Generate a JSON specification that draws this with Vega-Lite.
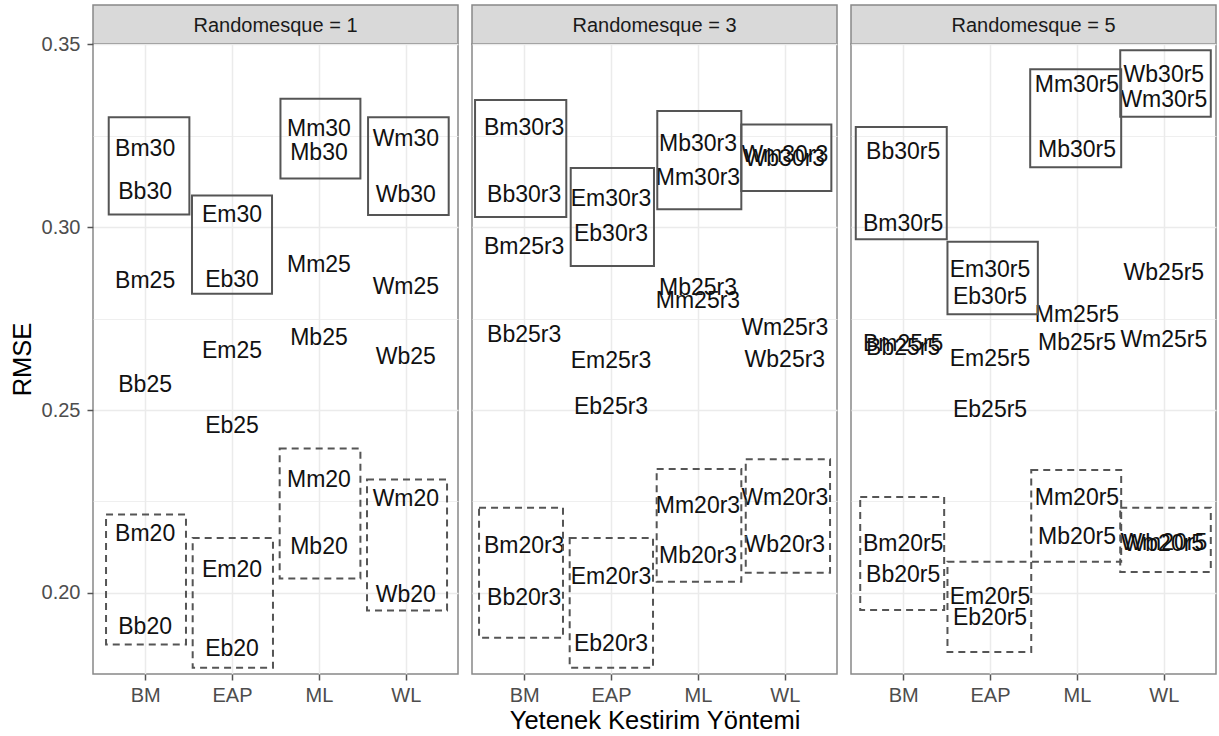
{
  "$schema": "https://vega.github.io/schema/vega-lite/v6.json",
  "autosize": {"type": "pad"},
  "padding": {"left": 9, "top": 4, "right": 1, "bottom": 0},
  "background": "white",
  "config": {
    "font": "Liberation Sans",
    "view": {"stroke": "#888888", "strokeWidth": 1.5},
    "axis": {
      "domain": false,
      "gridColor": "#EBEBEB",
      "tickColor": "#555555",
      "tickSize": 6,
      "tickWidth": 1.5,
      "labelColor": "#4D4D4D",
      "labelFont": "Liberation Sans",
      "labelFontSize": 20,
      "labelPadding": 5,
      "titleFont": "Liberation Sans",
      "titleFontSize": 25.5,
      "titleFontWeight": "normal",
      "titleColor": "#000000"
    }
  },
  "datasets": {
    "labels": [
      {"panel": "Randomesque = 1", "method": "BM", "rmse": 0.3217, "label": "Bm30"},
      {"panel": "Randomesque = 1", "method": "BM", "rmse": 0.3098, "label": "Bb30"},
      {"panel": "Randomesque = 1", "method": "BM", "rmse": 0.2855, "label": "Bm25"},
      {"panel": "Randomesque = 1", "method": "BM", "rmse": 0.2570, "label": "Bb25"},
      {"panel": "Randomesque = 1", "method": "BM", "rmse": 0.2164, "label": "Bm20"},
      {"panel": "Randomesque = 1", "method": "BM", "rmse": 0.1908, "label": "Bb20"},
      {"panel": "Randomesque = 1", "method": "EAP", "rmse": 0.3035, "label": "Em30"},
      {"panel": "Randomesque = 1", "method": "EAP", "rmse": 0.2858, "label": "Eb30"},
      {"panel": "Randomesque = 1", "method": "EAP", "rmse": 0.2665, "label": "Em25"},
      {"panel": "Randomesque = 1", "method": "EAP", "rmse": 0.2458, "label": "Eb25"},
      {"panel": "Randomesque = 1", "method": "EAP", "rmse": 0.2066, "label": "Em20"},
      {"panel": "Randomesque = 1", "method": "EAP", "rmse": 0.1849, "label": "Eb20"},
      {"panel": "Randomesque = 1", "method": "ML", "rmse": 0.3272, "label": "Mm30"},
      {"panel": "Randomesque = 1", "method": "ML", "rmse": 0.3205, "label": "Mb30"},
      {"panel": "Randomesque = 1", "method": "ML", "rmse": 0.2898, "label": "Mm25"},
      {"panel": "Randomesque = 1", "method": "ML", "rmse": 0.2699, "label": "Mb25"},
      {"panel": "Randomesque = 1", "method": "ML", "rmse": 0.2312, "label": "Mm20"},
      {"panel": "Randomesque = 1", "method": "ML", "rmse": 0.2128, "label": "Mb20"},
      {"panel": "Randomesque = 1", "method": "WL", "rmse": 0.3243, "label": "Wm30"},
      {"panel": "Randomesque = 1", "method": "WL", "rmse": 0.3090, "label": "Wb30"},
      {"panel": "Randomesque = 1", "method": "WL", "rmse": 0.2839, "label": "Wm25"},
      {"panel": "Randomesque = 1", "method": "WL", "rmse": 0.2647, "label": "Wb25"},
      {"panel": "Randomesque = 1", "method": "WL", "rmse": 0.2260, "label": "Wm20"},
      {"panel": "Randomesque = 1", "method": "WL", "rmse": 0.1998, "label": "Wb20"},
      {"panel": "Randomesque = 3", "method": "BM", "rmse": 0.3275, "label": "Bm30r3"},
      {"panel": "Randomesque = 3", "method": "BM", "rmse": 0.3092, "label": "Bb30r3"},
      {"panel": "Randomesque = 3", "method": "BM", "rmse": 0.2948, "label": "Bm25r3"},
      {"panel": "Randomesque = 3", "method": "BM", "rmse": 0.2708, "label": "Bb25r3"},
      {"panel": "Randomesque = 3", "method": "BM", "rmse": 0.2131, "label": "Bm20r3"},
      {"panel": "Randomesque = 3", "method": "BM", "rmse": 0.1989, "label": "Bb20r3"},
      {"panel": "Randomesque = 3", "method": "EAP", "rmse": 0.3080, "label": "Em30r3"},
      {"panel": "Randomesque = 3", "method": "EAP", "rmse": 0.2983, "label": "Eb30r3"},
      {"panel": "Randomesque = 3", "method": "EAP", "rmse": 0.2638, "label": "Em25r3"},
      {"panel": "Randomesque = 3", "method": "EAP", "rmse": 0.2510, "label": "Eb25r3"},
      {"panel": "Randomesque = 3", "method": "EAP", "rmse": 0.2046, "label": "Em20r3"},
      {"panel": "Randomesque = 3", "method": "EAP", "rmse": 0.1863, "label": "Eb20r3"},
      {"panel": "Randomesque = 3", "method": "ML", "rmse": 0.3229, "label": "Mb30r3"},
      {"panel": "Randomesque = 3", "method": "ML", "rmse": 0.3138, "label": "Mm30r3"},
      {"panel": "Randomesque = 3", "method": "ML", "rmse": 0.2837, "label": "Mb25r3"},
      {"panel": "Randomesque = 3", "method": "ML", "rmse": 0.2802, "label": "Mm25r3"},
      {"panel": "Randomesque = 3", "method": "ML", "rmse": 0.2241, "label": "Mm20r3"},
      {"panel": "Randomesque = 3", "method": "ML", "rmse": 0.2104, "label": "Mb20r3"},
      {"panel": "Randomesque = 3", "method": "WL", "rmse": 0.3200, "label": "Wm30r3"},
      {"panel": "Randomesque = 3", "method": "WL", "rmse": 0.3189, "label": "Wb30r3"},
      {"panel": "Randomesque = 3", "method": "WL", "rmse": 0.2727, "label": "Wm25r3"},
      {"panel": "Randomesque = 3", "method": "WL", "rmse": 0.2639, "label": "Wb25r3"},
      {"panel": "Randomesque = 3", "method": "WL", "rmse": 0.2263, "label": "Wm20r3"},
      {"panel": "Randomesque = 3", "method": "WL", "rmse": 0.2134, "label": "Wb20r3"},
      {"panel": "Randomesque = 5", "method": "BM", "rmse": 0.3208, "label": "Bb30r5"},
      {"panel": "Randomesque = 5", "method": "BM", "rmse": 0.3012, "label": "Bm30r5"},
      {"panel": "Randomesque = 5", "method": "BM", "rmse": 0.2684, "label": "Bm25r5"},
      {"panel": "Randomesque = 5", "method": "BM", "rmse": 0.2673, "label": "Bb25r5"},
      {"panel": "Randomesque = 5", "method": "BM", "rmse": 0.2137, "label": "Bm20r5"},
      {"panel": "Randomesque = 5", "method": "BM", "rmse": 0.2051, "label": "Bb20r5"},
      {"panel": "Randomesque = 5", "method": "EAP", "rmse": 0.2885, "label": "Em30r5"},
      {"panel": "Randomesque = 5", "method": "EAP", "rmse": 0.2811, "label": "Eb30r5"},
      {"panel": "Randomesque = 5", "method": "EAP", "rmse": 0.2643, "label": "Em25r5"},
      {"panel": "Randomesque = 5", "method": "EAP", "rmse": 0.2502, "label": "Eb25r5"},
      {"panel": "Randomesque = 5", "method": "EAP", "rmse": 0.1992, "label": "Em20r5"},
      {"panel": "Randomesque = 5", "method": "EAP", "rmse": 0.1935, "label": "Eb20r5"},
      {"panel": "Randomesque = 5", "method": "ML", "rmse": 0.3391, "label": "Mm30r5"},
      {"panel": "Randomesque = 5", "method": "ML", "rmse": 0.3213, "label": "Mb30r5"},
      {"panel": "Randomesque = 5", "method": "ML", "rmse": 0.2762, "label": "Mm25r5"},
      {"panel": "Randomesque = 5", "method": "ML", "rmse": 0.2685, "label": "Mb25r5"},
      {"panel": "Randomesque = 5", "method": "ML", "rmse": 0.2261, "label": "Mm20r5"},
      {"panel": "Randomesque = 5", "method": "ML", "rmse": 0.2156, "label": "Mb20r5"},
      {"panel": "Randomesque = 5", "method": "WL", "rmse": 0.3419, "label": "Wb30r5"},
      {"panel": "Randomesque = 5", "method": "WL", "rmse": 0.3350, "label": "Wm30r5"},
      {"panel": "Randomesque = 5", "method": "WL", "rmse": 0.2878, "label": "Wb25r5"},
      {"panel": "Randomesque = 5", "method": "WL", "rmse": 0.2693, "label": "Wm25r5"},
      {"panel": "Randomesque = 5", "method": "WL", "rmse": 0.2140, "label": "Wm20r5"},
      {"panel": "Randomesque = 5", "method": "WL", "rmse": 0.2135, "label": "Wb20r5"}
    ],
    "boxes": [
      {"panel": "Randomesque = 1", "group": "B", "items": 30, "x0": 0.581, "x1": 1.509, "y0": 0.3035, "y1": 0.3301},
      {"panel": "Randomesque = 1", "group": "E", "items": 30, "x0": 1.539, "x1": 2.460, "y0": 0.2818, "y1": 0.3087},
      {"panel": "Randomesque = 1", "group": "M", "items": 30, "x0": 2.557, "x1": 3.477, "y0": 0.3133, "y1": 0.3351},
      {"panel": "Randomesque = 1", "group": "W", "items": 30, "x0": 3.565, "x1": 4.493, "y0": 0.3033, "y1": 0.3301},
      {"panel": "Randomesque = 1", "group": "B", "items": 20, "x0": 0.550, "x1": 1.470, "y0": 0.1859, "y1": 0.2214},
      {"panel": "Randomesque = 1", "group": "E", "items": 20, "x0": 1.547, "x1": 2.471, "y0": 0.1795, "y1": 0.2150},
      {"panel": "Randomesque = 1", "group": "M", "items": 20, "x0": 2.548, "x1": 3.477, "y0": 0.2039, "y1": 0.2395},
      {"panel": "Randomesque = 1", "group": "W", "items": 20, "x0": 3.553, "x1": 4.474, "y0": 0.1952, "y1": 0.2310},
      {"panel": "Randomesque = 3", "group": "B", "items": 30, "x0": 0.435, "x1": 1.485, "y0": 0.3028, "y1": 0.3348},
      {"panel": "Randomesque = 3", "group": "E", "items": 30, "x0": 1.536, "x1": 2.494, "y0": 0.2894, "y1": 0.3162},
      {"panel": "Randomesque = 3", "group": "M", "items": 30, "x0": 2.532, "x1": 3.499, "y0": 0.3049, "y1": 0.3318},
      {"panel": "Randomesque = 3", "group": "W", "items": 30, "x0": 3.499, "x1": 4.535, "y0": 0.3099, "y1": 0.3281},
      {"panel": "Randomesque = 3", "group": "B", "items": 20, "x0": 0.481, "x1": 1.447, "y0": 0.1877, "y1": 0.2233},
      {"panel": "Randomesque = 3", "group": "E", "items": 20, "x0": 1.524, "x1": 2.483, "y0": 0.1795, "y1": 0.2150},
      {"panel": "Randomesque = 3", "group": "M", "items": 20, "x0": 2.525, "x1": 3.499, "y0": 0.2030, "y1": 0.2339},
      {"panel": "Randomesque = 3", "group": "W", "items": 20, "x0": 3.550, "x1": 4.520, "y0": 0.2055, "y1": 0.2365},
      {"panel": "Randomesque = 5", "group": "B", "items": 30, "x0": 0.455, "x1": 1.502, "y0": 0.2967, "y1": 0.3274},
      {"panel": "Randomesque = 5", "group": "E", "items": 30, "x0": 1.510, "x1": 2.550, "y0": 0.2762, "y1": 0.2960},
      {"panel": "Randomesque = 5", "group": "M", "items": 30, "x0": 2.462, "x1": 3.509, "y0": 0.3164, "y1": 0.3432},
      {"panel": "Randomesque = 5", "group": "W", "items": 30, "x0": 3.498, "x1": 4.540, "y0": 0.3302, "y1": 0.3484},
      {"panel": "Randomesque = 5", "group": "B", "items": 20, "x0": 0.506, "x1": 1.472, "y0": 0.1953, "y1": 0.2262},
      {"panel": "Randomesque = 5", "group": "E", "items": 20, "x0": 1.510, "x1": 2.474, "y0": 0.1838, "y1": 0.2085},
      {"panel": "Randomesque = 5", "group": "M", "items": 20, "x0": 2.474, "x1": 3.509, "y0": 0.2085, "y1": 0.2336},
      {"panel": "Randomesque = 5", "group": "W", "items": 20, "x0": 3.498, "x1": 4.540, "y0": 0.2057, "y1": 0.2233}
    ],
    "strips": [
      {"panel": "Randomesque = 1"},
      {"panel": "Randomesque = 3"},
      {"panel": "Randomesque = 5"}
    ]
  },
  "columns": 3,
  "spacing": {"row": 0, "column": 14},
  "bounds": "flush",
  "concat": [
    {
      "width": 365, "height": 39,
      "data": {"name": "strips"},
      "transform": [{"filter": "datum.panel === 'Randomesque = 1'"}],
      "view": {"fill": "#D9D9D9", "stroke": "#888888", "strokeWidth": 1.5},
      "mark": {"type": "text", "fontSize": 20, "color": "#1A1A1A", "dy": 1.5},
      "encoding": {"text": {"field": "panel"}}
    },
    {
      "width": 365, "height": 39,
      "data": {"name": "strips"},
      "transform": [{"filter": "datum.panel === 'Randomesque = 3'"}],
      "view": {"fill": "#D9D9D9", "stroke": "#888888", "strokeWidth": 1.5},
      "mark": {"type": "text", "fontSize": 20, "color": "#1A1A1A", "dy": 1.5},
      "encoding": {"text": {"field": "panel"}}
    },
    {
      "width": 365, "height": 39,
      "data": {"name": "strips"},
      "transform": [{"filter": "datum.panel === 'Randomesque = 5'"}],
      "view": {"fill": "#D9D9D9", "stroke": "#888888", "strokeWidth": 1.5},
      "mark": {"type": "text", "fontSize": 20, "color": "#1A1A1A", "dy": 1.5},
      "encoding": {"text": {"field": "panel"}}
    },
    {
      "width": 365, "height": 630,
      "resolve": {"scale": {"x": "independent"}, "axis": {"x": "independent"}},
      "layer": [
        {
          "data": {"name": "labels"},
          "transform": [{"filter": "datum.panel === 'Randomesque = 1'"}],
          "mark": {"type": "text", "fontSize": 23, "color": "#111111", "dy": 1},
          "encoding": {
            "x": {"field": "method", "type": "nominal", "scale": {"type": "point", "padding": 0.6, "domain": ["BM", "EAP", "ML", "WL"]},
                  "axis": {"title": null, "labelAngle": 0, "grid": true, "gridWidth": 1.5}},
            "y": {"field": "rmse", "type": "quantitative", "scale": {"domain": [0.1778, 0.3501], "nice": false, "zero": false},
                  "axis": {"title": "RMSE", "titlePadding": 6, "labelPadding": 7,
                           "values": [0.2, 0.225, 0.25, 0.275, 0.3, 0.325, 0.35],
                           "labelExpr": "round(datum.value * 1000) % 50 === 0 ? format(datum.value, '.2f') : ''",
                           "tickOpacity": {"condition": {"test": "round(datum.value * 1000) % 50 === 0", "value": 1}, "value": 0},
                           "gridWidth": {"condition": {"test": "round(datum.value * 1000) % 50 === 0", "value": 1.5}, "value": 0.8}}},
            "text": {"field": "label"}
          }
        },
        {
          "data": {"name": "boxes"},
          "transform": [{"filter": "datum.panel === 'Randomesque = 1' && datum.items === 30"}],
          "mark": {"type": "rect", "fill": "transparent", "stroke": "#555555", "strokeWidth": 2},
          "encoding": {
            "x": {"field": "x0", "type": "quantitative", "scale": {"domain": [0.4, 4.6], "nice": false, "zero": false}, "axis": null},
            "x2": {"field": "x1"},
            "y": {"field": "y0", "type": "quantitative"},
            "y2": {"field": "y1"}
          }
        },
        {
          "data": {"name": "boxes"},
          "transform": [{"filter": "datum.panel === 'Randomesque = 1' && datum.items === 20"}],
          "mark": {"type": "rect", "fill": "transparent", "stroke": "#555555", "strokeWidth": 2, "strokeDash": [7, 5]},
          "encoding": {
            "x": {"field": "x0", "type": "quantitative", "scale": {"domain": [0.4, 4.6], "nice": false, "zero": false}, "axis": null},
            "x2": {"field": "x1"},
            "y": {"field": "y0", "type": "quantitative"},
            "y2": {"field": "y1"}
          }
        }
      ]
    },
    {
      "width": 365, "height": 630,
      "resolve": {"scale": {"x": "independent"}, "axis": {"x": "independent"}},
      "layer": [
        {
          "data": {"name": "labels"},
          "transform": [{"filter": "datum.panel === 'Randomesque = 3'"}],
          "mark": {"type": "text", "fontSize": 23, "color": "#111111", "dy": 1},
          "encoding": {
            "x": {"field": "method", "type": "nominal", "scale": {"type": "point", "padding": 0.6, "domain": ["BM", "EAP", "ML", "WL"]},
                  "axis": {"title": "Yetenek Kestirim Yöntemi", "titlePadding": 3, "labelAngle": 0, "grid": true, "gridWidth": 1.5}},
            "y": {"field": "rmse", "type": "quantitative", "scale": {"domain": [0.1778, 0.3501], "nice": false, "zero": false},
                  "axis": {"title": null, "labels": false, "ticks": false,
                           "values": [0.2, 0.225, 0.25, 0.275, 0.3, 0.325, 0.35],
                           "gridWidth": {"condition": {"test": "round(datum.value * 1000) % 50 === 0", "value": 1.5}, "value": 0.8}}},
            "text": {"field": "label"}
          }
        },
        {
          "data": {"name": "boxes"},
          "transform": [{"filter": "datum.panel === 'Randomesque = 3' && datum.items === 30"}],
          "mark": {"type": "rect", "fill": "transparent", "stroke": "#555555", "strokeWidth": 2},
          "encoding": {
            "x": {"field": "x0", "type": "quantitative", "scale": {"domain": [0.4, 4.6], "nice": false, "zero": false}, "axis": null},
            "x2": {"field": "x1"},
            "y": {"field": "y0", "type": "quantitative"},
            "y2": {"field": "y1"}
          }
        },
        {
          "data": {"name": "boxes"},
          "transform": [{"filter": "datum.panel === 'Randomesque = 3' && datum.items === 20"}],
          "mark": {"type": "rect", "fill": "transparent", "stroke": "#555555", "strokeWidth": 2, "strokeDash": [7, 5]},
          "encoding": {
            "x": {"field": "x0", "type": "quantitative", "scale": {"domain": [0.4, 4.6], "nice": false, "zero": false}, "axis": null},
            "x2": {"field": "x1"},
            "y": {"field": "y0", "type": "quantitative"},
            "y2": {"field": "y1"}
          }
        }
      ]
    },
    {
      "width": 365, "height": 630,
      "resolve": {"scale": {"x": "independent"}, "axis": {"x": "independent"}},
      "layer": [
        {
          "data": {"name": "labels"},
          "transform": [{"filter": "datum.panel === 'Randomesque = 5'"}],
          "mark": {"type": "text", "fontSize": 23, "color": "#111111", "dy": 1},
          "encoding": {
            "x": {"field": "method", "type": "nominal", "scale": {"type": "point", "padding": 0.6, "domain": ["BM", "EAP", "ML", "WL"]},
                  "axis": {"title": null, "labelAngle": 0, "grid": true, "gridWidth": 1.5}},
            "y": {"field": "rmse", "type": "quantitative", "scale": {"domain": [0.1778, 0.3501], "nice": false, "zero": false},
                  "axis": {"title": null, "labels": false, "ticks": false,
                           "values": [0.2, 0.225, 0.25, 0.275, 0.3, 0.325, 0.35],
                           "gridWidth": {"condition": {"test": "round(datum.value * 1000) % 50 === 0", "value": 1.5}, "value": 0.8}}},
            "text": {"field": "label"}
          }
        },
        {
          "data": {"name": "boxes"},
          "transform": [{"filter": "datum.panel === 'Randomesque = 5' && datum.items === 30"}],
          "mark": {"type": "rect", "fill": "transparent", "stroke": "#555555", "strokeWidth": 2},
          "encoding": {
            "x": {"field": "x0", "type": "quantitative", "scale": {"domain": [0.4, 4.6], "nice": false, "zero": false}, "axis": null},
            "x2": {"field": "x1"},
            "y": {"field": "y0", "type": "quantitative"},
            "y2": {"field": "y1"}
          }
        },
        {
          "data": {"name": "boxes"},
          "transform": [{"filter": "datum.panel === 'Randomesque = 5' && datum.items === 20"}],
          "mark": {"type": "rect", "fill": "transparent", "stroke": "#555555", "strokeWidth": 2, "strokeDash": [7, 5]},
          "encoding": {
            "x": {"field": "x0", "type": "quantitative", "scale": {"domain": [0.4, 4.6], "nice": false, "zero": false}, "axis": null},
            "x2": {"field": "x1"},
            "y": {"field": "y0", "type": "quantitative"},
            "y2": {"field": "y1"}
          }
        }
      ]
    }
  ]
}
